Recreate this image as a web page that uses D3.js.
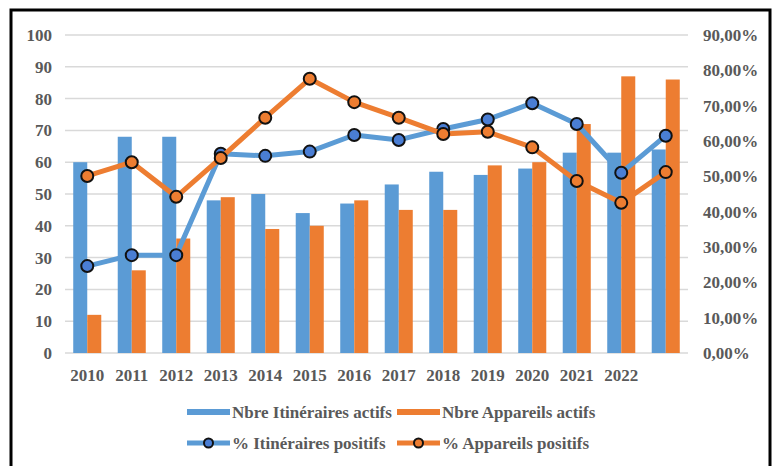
<!DOCTYPE html>
<html>
<head>
<meta charset="utf-8">
<script src="https://cdn.jsdelivr.net/npm/d3@7"></script>
<style>
	body { margin: 0; background: #fff; }
	svg text { font-family: "Liberation Serif", "DejaVu Serif", serif; font-weight: bold; fill: #595959; }
</style>
</head>
<body>
<div id="chart"></div>
<script>
// categories (the last group has no label in the original)
const years = ["2010", "2011", "2012", "2013", "2014", "2015", "2016", "2017", "2018", "2019", "2020", "2021", "2022", ""];

// bars, left axis
const itinerairesActifs = [60, 68, 68, 48, 50, 44, 47, 53, 57, 56, 58, 63, 63, 64];
const appareilsActifs = [12, 26, 36, 49, 39, 40, 48, 45, 45, 59, 60, 72, 87, 86];

// lines, right axis (percent)
const itinerairesPositifs = [24.6, 27.7, 27.7, 56.4, 55.8, 57.0, 61.7, 60.3, 63.4, 66.1, 70.7, 64.8, 51.0, 61.5];
const appareilsPositifs = [50.1, 54.0, 44.2, 55.2, 66.6, 77.6, 71.0, 66.6, 62.0, 62.6, 58.2, 48.7, 42.5, 51.2];

const leftTicks = [0, 10, 20, 30, 40, 50, 60, 70, 80, 90, 100];
const rightTicks = [0, 10, 20, 30, 40, 50, 60, 70, 80, 90];

let width = 779;
let height = 466;
let margin = { top: 35, right: 91, bottom: 113, left: 65 };

const blue = "#5B9BD5";
const orange = "#ED7D31";

let svg = d3.select("#chart")
	.append("svg")
	.attr("width", width)
	.attr("height", height);

// frame
svg.append("rect")
	.attr("x", 11)
	.attr("y", 10)
	.attr("width", 759)
	.attr("height", 470)
	.attr("fill", "none")
	.attr("stroke", "#000")
	.attr("stroke-width", 3);

let x0 = d3.scaleBand()
	.domain(years)
	.range([margin.left, width - margin.right])
	.paddingInner(0.37)
	.paddingOuter(0.185);

let x1 = d3.scaleBand()
	.domain(["it", "ap"])
	.range([0, x0.bandwidth()]);

let yLeft = d3.scaleLinear()
	.domain([0, 100])
	.range([height - margin.bottom, margin.top]);

let yRight = d3.scaleLinear()
	.domain([0, 90])
	.range([height - margin.bottom, margin.top]);

// gridlines
svg.append("g")
	.selectAll("line")
	.data(leftTicks)
	.enter()
	.append("line")
	.attr("x1", margin.left)
	.attr("x2", width - margin.right)
	.attr("y1", d => yLeft(d))
	.attr("y2", d => yLeft(d))
	.attr("stroke", "#d9d9d9")
	.attr("stroke-width", 1.5);

// Left axis
let gLeft = svg.append("g")
	.attr("transform", "translate(" + (margin.left - 13) + ",0)")
	.call(d3.axisLeft(yLeft).tickValues(leftTicks).tickSize(0).tickPadding(0));
gLeft.select(".domain").remove();

// Right axis
let gRight = svg.append("g")
	.attr("transform", "translate(" + (width - margin.right + 15) + ",0)")
	.call(d3.axisRight(yRight).tickValues(rightTicks).tickSize(0).tickPadding(0)
		.tickFormat(d => d3.format(".2f")(d).replace(".", ",") + "%"));
gRight.select(".domain").remove();

// Bottom axis
let gBottom = svg.append("g")
	.attr("transform", "translate(0," + (height - margin.bottom) + ")")
	.call(d3.axisBottom(x0).tickSize(0).tickPadding(16));
gBottom.select(".domain").remove();

svg.selectAll(".tick text")
	.style("font-size", "17px")
	.attr("fill", "#595959");

// bars
let groups = svg.append("g")
	.selectAll("g")
	.data(years.map((y, i) => ({ year: y, it: itinerairesActifs[i], ap: appareilsActifs[i] })))
	.enter()
	.append("g")
	.attr("transform", d => "translate(" + x0(d.year) + ",0)");

groups.append("rect")
	.attr("x", x1("it"))
	.attr("y", d => yLeft(d.it))
	.attr("width", x1.bandwidth())
	.attr("height", d => yLeft(0) - yLeft(d.it))
	.attr("fill", blue);

groups.append("rect")
	.attr("x", x1("ap"))
	.attr("y", d => yLeft(d.ap))
	.attr("width", x1.bandwidth())
	.attr("height", d => yLeft(0) - yLeft(d.ap))
	.attr("fill", orange);

// lines
function drawLine(values, color, markerFill) {
	let pts = years.map((y, i) => [x0(y) + x0.bandwidth() / 2, yRight(values[i])]);
	svg.append("path")
		.attr("d", d3.line()(pts))
		.attr("fill", "none")
		.attr("stroke", color)
		.attr("stroke-width", 5)
		.attr("stroke-linejoin", "round");
	svg.append("g")
		.selectAll("circle")
		.data(pts)
		.enter()
		.append("circle")
		.attr("cx", d => d[0])
		.attr("cy", d => d[1])
		.attr("r", 6)
		.attr("fill", markerFill)
		.attr("stroke", "#111")
		.attr("stroke-width", 2);
}
drawLine(itinerairesPositifs, blue, "#4a7ed4");
drawLine(appareilsPositifs, orange, orange);

// Legend
const legendItems = [
	{ label: "Nbre Itinéraires actifs", color: blue, type: "bar", x: 187, y: 412 },
	{ label: "Nbre Appareils actifs", color: orange, type: "bar", x: 397, y: 412 },
	{ label: "% Itinéraires positifs", color: blue, type: "line", x: 187, y: 443, mf: "#4a7ed4" },
	{ label: "% Appareils positifs", color: orange, type: "line", x: 397, y: 443, mf: orange }
];

let legend = svg.append("g");
legendItems.forEach(d => {
	if (d.type === "bar") {
		legend.append("rect")
			.attr("x", d.x)
			.attr("y", d.y - 3)
			.attr("width", 43)
			.attr("height", 6)
			.attr("fill", d.color);
	} else {
		legend.append("line")
			.attr("x1", d.x)
			.attr("x2", d.x + 43)
			.attr("y1", d.y)
			.attr("y2", d.y)
			.attr("stroke", d.color)
			.attr("stroke-width", 5);
		legend.append("circle")
			.attr("cx", d.x + 21.5)
			.attr("cy", d.y)
			.attr("r", 4.5)
			.attr("fill", d.mf)
			.attr("stroke", "#111")
			.attr("stroke-width", 2);
	}
	legend.append("text")
		.attr("x", d.x + 45)
		.attr("y", d.y)
		.attr("dy", "0.35em")
		.style("font-size", "17px")
		.text(d.label);
});
</script>
</body>
</html>
